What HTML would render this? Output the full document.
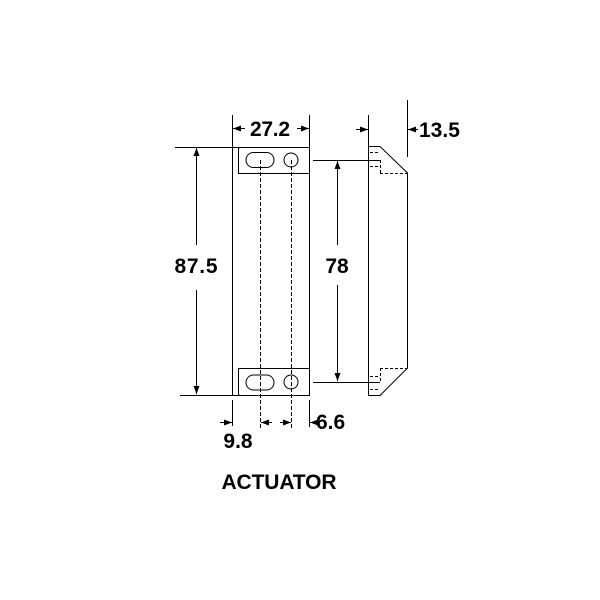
<!DOCTYPE html>
<html><head><style>body{margin:0;background:#fff}svg{display:block}text{font-family:"Liberation Sans",sans-serif;font-weight:bold;font-size:21px;fill:#000}</style></head>
<body><svg width="600" height="600" viewBox="0 0 600 600">
<defs><marker id="a" markerWidth="8" markerHeight="6" refX="8" refY="3" orient="auto" markerUnits="userSpaceOnUse"><path d="M0,0L8,3L0,6z" fill="#000"/></marker></defs>
<g stroke="#000" stroke-width="1" fill="none">
<rect x="232.5" y="147.5" width="77" height="248"/>
<path d="M310,173.5H238.5V149Q238.5,147.5 240,147.5"/>
<path d="M310,368.5H238.5V393Q238.5,395.5 240,395.5"/>
<rect x="246" y="152.5" width="28" height="15" rx="7.5"/>
<circle cx="291" cy="160" r="7"/>
<rect x="246" y="375" width="28" height="15" rx="7.5"/>
<circle cx="291" cy="382" r="7"/>
<path d="M260.5,160V430M291.5,160V430" stroke-dasharray="4,2"/>
<path d="M175,147.5H232M180,395.5H232"/>
<path d="M196.5,245V148" marker-end="url(#a)"/><path d="M196.5,290V394" marker-end="url(#a)"/>
<path d="M313,160.5H380M313,382.5H380"/>
<path d="M337.5,245V161" marker-end="url(#a)"/><path d="M337.5,285V381" marker-end="url(#a)"/>
<path d="M232.5,115V147M309.5,115V147"/>
<path d="M245,128.5H233" marker-end="url(#a)"/><path d="M297,128.5H309" marker-end="url(#a)"/>
<path d="M368.5,115V146M407.5,100V157"/>
<path d="M356,129.5H368" marker-end="url(#a)"/><path d="M418,129.5H408" marker-end="url(#a)"/>
<path d="M368.5,146.5H380L407.5,173V368L380,395.5H368.5Z"/>
<path d="M380,173.5H407M380,368.5H407M370,152.5H380M370,160.5H380M370,166.5H380M370,376.5H380M370,382.5H380M370,389.5H380M380.5,160V173M380.5,368V382" stroke-dasharray="3,2"/>
<path d="M232.5,400V426M309.5,400V427"/>
<path d="M220,422.5H232" marker-end="url(#a)"/><path d="M272,422.5H261" marker-end="url(#a)"/>
<path d="M280,422.5H291" marker-end="url(#a)"/><path d="M320,422.5H310" marker-end="url(#a)"/>
</g>
<text x="270" y="136" text-anchor="middle" textLength="40">27.2</text>
<text x="419" y="137">13.5</text>
<text x="196" y="273" text-anchor="middle" textLength="43">87.5</text>
<text x="337" y="273" text-anchor="middle">78</text>
<text x="238" y="448" text-anchor="middle">9.8</text>
<text x="316" y="429">6.6</text>
<text x="279" y="489" text-anchor="middle" textLength="115">ACTUATOR</text>
</svg></body></html>
